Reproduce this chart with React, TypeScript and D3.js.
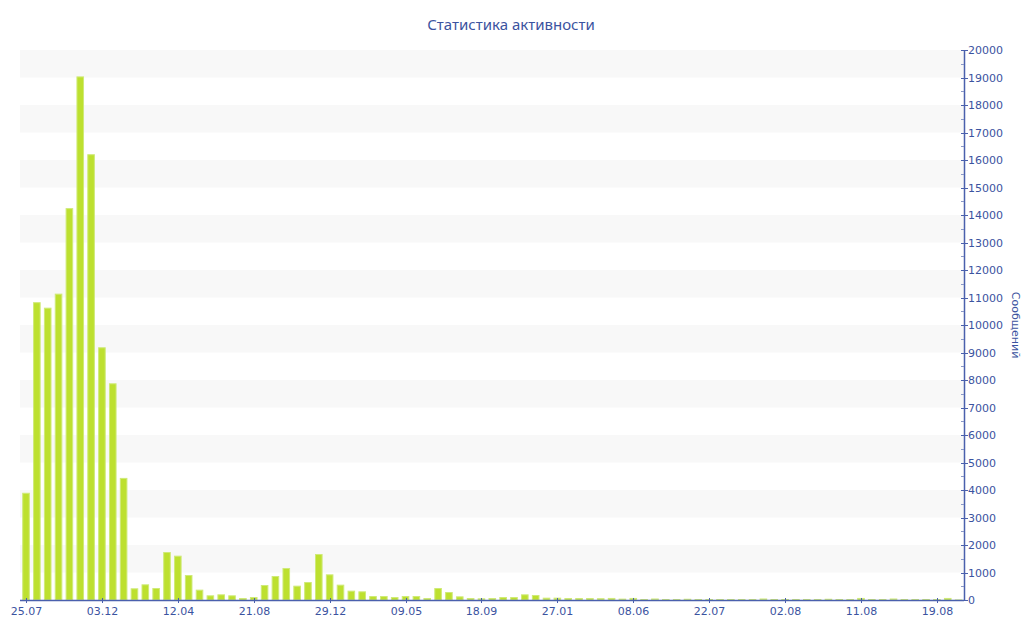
import React from "react";
import * as d3 from "d3";

const title = "Статистика активности";
const yAxisTitle = "Сообщений";

// one value per period (87 periods)
const messages: number[] = [
  3900, 10830, 10630, 11140, 14250, 19040, 16210, 9190, 7880, 4440,
  425, 570, 436, 1745, 1612, 909, 376, 170, 206, 170,
  73, 109, 545, 873, 1164, 521, 655, 1673, 933, 558,
  340, 315, 145, 145, 109, 145, 145, 73, 436, 291,
  133, 73, 61, 73, 109, 109, 206, 182, 85, 85,
  73, 73, 73, 65, 75, 50, 75, 35, 55, 35,
  35, 45, 35, 35, 35, 35, 35, 35, 55, 35,
  35, 35, 35, 35, 45, 35, 35, 75, 35, 35,
  55, 35, 35, 35, 35, 75, 20,
];

// labels shown every 7th period
const xTickLabels: string[] = [
  "25.07", "03.12", "12.04", "21.08", "29.12", "09.05", "18.09",
  "27.01", "08.06", "22.07", "02.08", "11.08", "19.08",
];
const xTickEvery = 7;

const yMax = 20000;
const yMajorStep = 1000;

const W = 1024;
const H = 640;
const M = { left: 20.6, right: 60, top: 50, bottom: 40 };

const textColor = "#3b53a0";
const axisColor = "#4a60ad";
const barFill = "#bde02f";
const barEdge = "#cfea78";
const stripe = "#f8f8f8";

export default function App() {
  const x = d3
    .scaleBand<number>()
    .domain(d3.range(messages.length))
    .range([M.left, W - M.right])
    .paddingInner(0.3)
    .paddingOuter(0.15);
  const y = d3.scaleLinear().domain([0, yMax]).range([H - M.bottom, M.top]);

  const majors = d3.range(0, yMax + 1, yMajorStep);
  const minors = d3.range(yMajorStep / 2, yMax, yMajorStep);
  const stripes = d3.range(yMajorStep, yMax, yMajorStep * 2);
  const x0 = M.left - 0.6;
  const x1 = W - M.right;
  const y0 = y(0);

  const tickIdx = xTickLabels.map((_, i) => i * xTickEvery);

  return (
    <svg
      width={W}
      height={H}
      style={{ position: "absolute", left: 0, top: 0, background: "#fff" }}
      fontFamily="DejaVu Sans, Verdana, sans-serif"
    >
      {stripes.map((v) => (
        <rect
          key={"s" + v}
          x={x0}
          y={y(v + yMajorStep)}
          width={x1 - x0}
          height={y(v) - y(v + yMajorStep)}
          fill={stripe}
        />
      ))}
      {messages.map((v, i) => (
        <rect
          key={"b" + i}
          x={(x(i) as number) + 0.5}
          y={y(v) + 0.5}
          width={x.bandwidth() - 1}
          height={Math.max(0, y0 - y(v) - 0.5)}
          fill={barFill}
          stroke={barEdge}
          strokeWidth={1}
        />
      ))}
      {/* x axis */}
      <line x1={x0} x2={x1} y1={y0 + 0.5} y2={y0 + 0.5} stroke={axisColor} strokeWidth={1.5} />
      {tickIdx.map((idx, k) => {
        const cx = Math.round((x(idx) as number) + x.bandwidth() / 2) + 0.5;
        return (
          <g key={"xt" + k}>
            <line x1={cx} x2={cx} y1={y0 - 2} y2={y0 + 3} stroke={axisColor} strokeWidth={1} />
            <text
              x={cx}
              y={y0 + 15}
              textAnchor="middle"
              fontSize={11}
              fill={textColor}
            >
              {xTickLabels[k]}
            </text>
          </g>
        );
      })}
      {/* y axis on the right */}
      <line x1={x1 + 0.5} x2={x1 + 0.5} y1={y(yMax)} y2={y0 + 1} stroke={axisColor} strokeWidth={1.5} />
      {majors.map((v) => (
        <g key={"yt" + v}>
          <line
            x1={x1 - 3}
            x2={x1 + 4}
            y1={Math.round(y(v)) + 0.5}
            y2={Math.round(y(v)) + 0.5}
            stroke={axisColor}
            strokeWidth={1}
          />
          <text x={x1 + 4} y={y(v) + 4} fontSize={11} fill={textColor}>
            {v}
          </text>
        </g>
      ))}
      {minors.map((v) => (
        <line
          key={"ym" + v}
          x1={x1 - 3}
          x2={x1}
          y1={Math.round(y(v)) + 0.5}
          y2={Math.round(y(v)) + 0.5}
          stroke="#8a98c8"
          strokeWidth={1}
        />
      ))}
      <text
        transform={`translate(1012, ${(y(0) + y(yMax)) / 2}) rotate(90)`}
        textAnchor="middle"
        fontSize={11}
        fill={textColor}
      >
        {yAxisTitle}
      </text>
      <text
        x={511}
        y={30}
        textAnchor="middle"
        fontSize={15}
        fontFamily="Noto Sans, sans-serif"
        fill={textColor}
      >
        {title}
      </text>
    </svg>
  );
}
